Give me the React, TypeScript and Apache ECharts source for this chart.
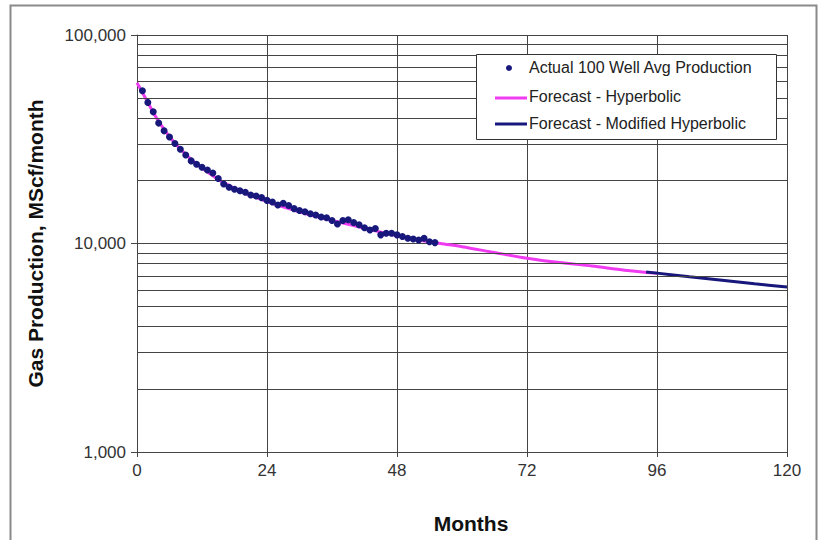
import React, { useEffect, useRef } from "react";
import * as echarts from "echarts";

const actualMonths = [
  1, 2, 3, 4, 5, 6, 7, 8, 9, 10, 11, 12, 13, 14, 15, 16, 17, 18, 19, 20,
  21, 22, 23, 24, 25, 26, 27, 28, 29, 30, 31, 32, 33, 34, 35, 36, 37, 38, 39, 40,
  41, 42, 43, 44, 45, 46, 47, 48, 49, 50, 51, 52, 53, 54, 55,
];
const actualValues = [
  54000, 47500, 42800, 37800, 34700, 32400, 30200, 28300, 26600, 24900,
  24000, 23200, 22500, 21800, 20500, 19300, 18600, 18200, 17900, 17600,
  17100, 16900, 16600, 16100, 15800, 15300, 15600, 15200, 14700, 14400,
  14200, 13900, 13700, 13400, 13300, 12900, 12400, 12900, 13000, 12600,
  12300, 11900, 11600, 11800, 11000, 11200, 11200, 11000, 10800, 10600,
  10500, 10400, 10600, 10200, 10100,
];

const hypMonths = [0, 1, 2, 3, 4, 6, 8, 10, 12, 15, 18, 21, 24, 28, 32, 36, 40, 44, 48, 52, 56, 60, 66, 72, 78, 84, 90, 96];
const hypValues = [
  59000, 53000, 47500, 42500, 38500, 32500, 28400, 25300, 23000, 20300,
  18400, 17000, 15900, 14700, 13700, 12900, 12200, 11500, 10900, 10400,
  10000, 9650, 9050, 8500, 8100, 7800, 7450, 7200,
];

const modMonths = [94, 96, 102, 108, 114, 120];
const modValues = [7300, 7210, 6920, 6660, 6410, 6180];

const minorGrid = [2000, 3000, 4000, 5000, 6000, 7000, 8000, 9000, 20000, 30000, 40000, 50000, 60000, 70000, 80000, 90000];

const legendNames = [
  "Actual 100 Well Avg Production",
  "Forecast - Hyperbolic",
  "Forecast - Modified Hyperbolic",
];

const FONT = "'Liberation Sans', Arial, sans-serif";
const NAVY = "#17177c";
const MAGENTA = "#f03cf0";
const GRID = "#444444";

export default function App() {
  const ref = useRef<HTMLDivElement>(null);
  useEffect(() => {
    if (!ref.current) return;
    const chart = echarts.init(ref.current, undefined, { renderer: "svg" });
    const zip = (xs: number[], ys: number[]) => xs.map((x, i) => [x, ys[i]]);
    const legendText = (text: string, y: number) => ({
      type: "text",
      z: 102,
      x: 529,
      y,
      style: { text, fontFamily: FONT, fontSize: 16, fill: "#222", verticalAlign: "middle" },
    });
    chart.setOption({
      animation: false,
      backgroundColor: "#ffffff",
      textStyle: { fontFamily: FONT },
      grid: { left: 137, right: 35, top: 35, bottom: 88, containLabel: false },
      xAxis: {
        type: "value",
        min: 0,
        max: 120,
        interval: 24,
        name: "Months",
        nameLocation: "middle",
        nameGap: 61,
        nameTextStyle: { fontFamily: FONT, fontSize: 21, fontWeight: "bold", color: "#111", padding: [0, 0, 0, 18] },
        axisLine: { show: true, lineStyle: { color: GRID, width: 1 } },
        axisTick: { show: true, length: 5, lineStyle: { color: GRID } },
        axisLabel: { fontFamily: FONT, fontSize: 17, color: "#333", margin: 10 },
        splitLine: { show: true, lineStyle: { color: GRID, width: 1 } },
      },
      yAxis: {
        type: "log",
        logBase: 10,
        min: 1000,
        max: 100000,
        name: "Gas Production, MScf/month",
        nameLocation: "middle",
        nameRotate: 90,
        nameGap: 91,
        nameTextStyle: { fontFamily: FONT, fontSize: 21, fontWeight: "bold", color: "#111" },
        axisLine: { show: true, lineStyle: { color: GRID, width: 1 } },
        axisTick: { show: true, length: 6, lineStyle: { color: GRID } },
        axisLabel: {
          fontFamily: FONT,
          fontSize: 17,
          color: "#333",
          margin: 11,
          formatter: (v: number) => Math.round(v).toLocaleString("en-US"),
        },
        splitLine: { show: true, lineStyle: { color: GRID, width: 1 } },
      },
      series: [
        {
          name: "minor grid",
          type: "line",
          data: [],
          z: 1,
          silent: true,
          markLine: {
            silent: true,
            symbol: "none",
            animation: false,
            label: { show: false },
            lineStyle: { color: GRID, width: 1, type: "solid" },
            emphasis: { disabled: true },
            data: minorGrid.map((v) => ({ yAxis: v })),
          },
        },
        {
          name: legendNames[1],
          type: "line",
          data: zip(hypMonths, hypValues),
          smooth: 0.3,
          showSymbol: false,
          z: 3,
          lineStyle: { color: MAGENTA, width: 3 },
          itemStyle: { color: MAGENTA },
        },
        {
          name: legendNames[2],
          type: "line",
          data: zip(modMonths, modValues),
          smooth: 0.3,
          showSymbol: false,
          z: 4,
          lineStyle: { color: NAVY, width: 3 },
          itemStyle: { color: NAVY },
        },
        {
          name: legendNames[0],
          type: "scatter",
          data: zip(actualMonths, actualValues),
          symbol: "circle",
          symbolSize: 7,
          z: 5,
          itemStyle: { color: NAVY, opacity: 1 },
        },
      ],
      graphic: [
        {
          type: "rect",
          shape: { x: 10.5, y: 5.5, width: 806, height: 540 },
          style: { fill: "none", stroke: "#8a8a8a", lineWidth: 2 },
          silent: true,
          z: 0,
        },
        {
          type: "rect",
          z: 100,
          shape: { x: 476.5, y: 54.5, width: 300, height: 85 },
          style: { fill: "#ffffff", stroke: "#333333", lineWidth: 1 },
        },
        {
          type: "circle",
          z: 101,
          shape: { cx: 509, cy: 68, r: 3 },
          style: { fill: NAVY },
        },
        {
          type: "line",
          z: 101,
          shape: { x1: 495, y1: 98, x2: 527, y2: 98 },
          style: { stroke: MAGENTA, lineWidth: 3 },
        },
        {
          type: "line",
          z: 101,
          shape: { x1: 495, y1: 124, x2: 527, y2: 124 },
          style: { stroke: NAVY, lineWidth: 3 },
        },
        legendText(legendNames[0], 67),
        legendText(legendNames[1], 96),
        legendText(legendNames[2], 123),
      ],
    });
    return () => chart.dispose();
  }, []);
  return <div ref={ref} style={{ width: 822, height: 540, position: "absolute", left: 0, top: 0 }} />;
}
